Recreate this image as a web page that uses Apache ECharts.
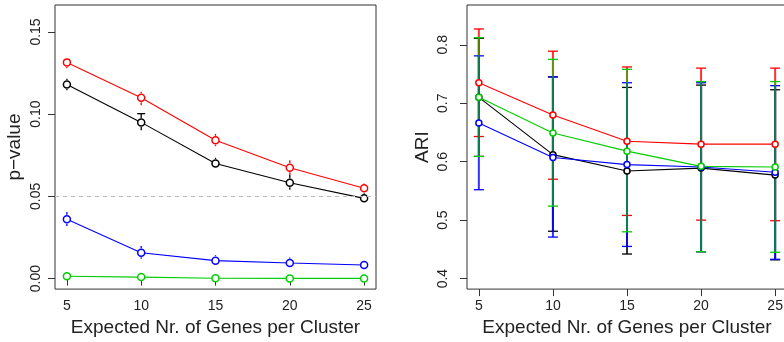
<!DOCTYPE html>
<html>
<head>
<meta charset="utf-8">
<script src="https://cdn.jsdelivr.net/npm/echarts@6/dist/echarts.min.js"></script>
<style>
  html, body { margin: 0; padding: 0; overflow: hidden; background: #fff; }
  #chart { width: 800px; height: 342px; }
</style>
</head>
<body>
<div id="chart"></div>
<script>
// x positions shared by both panels
const genesPerCluster = [5, 10, 15, 20, 25];
const xTicks = [5, 10, 15, 20, 25];

// left panel: p-value means and error limits
const pRed   = [0.1315, 0.110, 0.0841, 0.0674, 0.0549];
const pRedLo = [0.128, 0.1055, 0.0805, 0.063, 0.052];
const pRedHi = [0.1345, 0.1137, 0.0880, 0.072, 0.058];
const pBlack   = [0.118, 0.095, 0.070, 0.0583, 0.0488];
const pBlackLo = [0.1145, 0.0902, 0.0670, 0.054, 0.0458];
const pBlackHi = [0.1215, 0.1003, 0.0735, 0.063, 0.0520];
const pBlue   = [0.0361, 0.0157, 0.0109, 0.0095, 0.0083];
const pBlueLo = [0.0320, 0.0120, 0.0080, 0.0065, 0.0070];
const pBlueHi = [0.0405, 0.0198, 0.0142, 0.0128, 0.0096];
const pGreen   = [0.0014, 0.0009, 0.0002, 0.0001, 0.0001];
const pGreenLo = [0.0008, 0.0004, 0.0000, 0.0000, 0.0000];
const pGreenHi = [0.0020, 0.0014, 0.0004, 0.0002, 0.0002];
const pTicks = [0, 0.05, 0.10, 0.15];
const pThreshold = 0.05;

// right panel: ARI means and error limits
const ariRed   = [0.735, 0.680, 0.635, 0.630, 0.630];
const ariRedLo = [0.643, 0.570, 0.508, 0.500, 0.499];
const ariRedHi = [0.827, 0.789, 0.762, 0.760, 0.760];
const ariBlack   = [0.710, 0.612, 0.584, 0.589, 0.577];
const ariBlackLo = [0.609, 0.481, 0.442, 0.446, 0.432];
const ariBlackHi = [0.811, 0.745, 0.727, 0.731, 0.723];
const ariBlue   = [0.666, 0.607, 0.595, 0.591, 0.582];
const ariBlueLo = [0.552, 0.471, 0.455, 0.446, 0.433];
const ariBlueHi = [0.781, 0.745, 0.735, 0.735, 0.730];
const ariGreen   = [0.710, 0.649, 0.618, 0.592, 0.591];
const ariGreenLo = [0.609, 0.524, 0.480, 0.446, 0.445];
const ariGreenHi = [0.812, 0.775, 0.758, 0.737, 0.737];
const ariTicks = [0.4, 0.5, 0.6, 0.7, 0.8];

const RED = '#ff0000', BLACK = '#000000', BLUE = '#0000ff', GREEN = '#00cd00';
const FONT = 'Liberation Sans, Arial, sans-serif';

const chart = echarts.init(document.getElementById('chart'), null, { renderer: 'canvas' });

// error bars: vertical segment with caps, drawn through the axis scales
function errorBars(gap, capW, barOpacity, barWidth) {
  return function (params, api) {
    const x = api.value(0), lo = api.value(1), hi = api.value(2), m = api.value(3);
    const pLo = api.coord([x, lo]), pHi = api.coord([x, hi]), pM = api.coord([x, m]);
    const color = api.visual('color');
    const kids = [];
    const seg = (y1, y2) => kids.push({
      type: 'line',
      shape: { x1: pM[0], y1: y1, x2: pM[0], y2: y2 },
      style: { stroke: color, lineWidth: barWidth, opacity: barOpacity }
    });
    const cap = (y) => kids.push({
      type: 'line',
      shape: { x1: pM[0] - capW / 2, y1: y, x2: pM[0] + capW / 2, y2: y },
      style: { stroke: color, lineWidth: 1.3 }
    });
    const top = pM[1] - gap, bot = pM[1] + gap;
    if (top - pHi[1] > 0.5) {
      seg(pHi[1], top);
      if (top - pHi[1] > 4) cap(pHi[1]);
    }
    if (pLo[1] - bot > 0.5) {
      seg(bot, pLo[1]);
      if (pLo[1] - bot > 4) cap(pLo[1]);
    }
    return { type: 'group', children: kids };
  };
}

function rows(mean, lo, hi) {
  return genesPerCluster.map((x, i) => [x, lo[i], hi[i], mean[i]]);
}

function errSeries(idx, color, mean, lo, hi, gap, capW, op, w) {
  return {
    type: 'custom', xAxisIndex: idx, yAxisIndex: idx, z: 1,
    itemStyle: { color: color },
    renderItem: errorBars(gap, capW, op, w),
    encode: { x: 0, y: [1, 2] },
    data: rows(mean, lo, hi),
    silent: true
  };
}

function lineSeries(idx, color, mean, size) {
  return {
    type: 'line', xAxisIndex: idx, yAxisIndex: idx, z: 3,
    data: genesPerCluster.map((x, i) => [x, mean[i]]),
    symbol: 'circle', symbolSize: size, showSymbol: true,
    lineStyle: { color: color, width: 1.1 },
    itemStyle: { color: '#fff', borderColor: color, borderWidth: 1.5 },
    emphasis: { disabled: true },
    silent: true
  };
}

function xAxis(idx) {
  return {
    type: 'value', gridIndex: idx, min: 4.2, max: 25.8,
    name: 'Expected Nr. of Genes per Cluster', nameLocation: 'middle', nameGap: 27,
    nameTextStyle: { fontFamily: FONT, fontSize: 19, color: '#222' },
    axisLine: { show: false },
    axisTick: { show: true, length: 7, lineStyle: { color: '#333' }, customValues: xTicks },
    axisLabel: { fontFamily: FONT, fontSize: 14, color: '#222', margin: 10, customValues: xTicks },
    splitLine: { show: false }
  };
}

function yAxis(idx, name, min, max, ticks, fmt, margin, gap) {
  return {
    type: 'value', gridIndex: idx, min: min, max: max,
    name: name, nameLocation: 'middle', nameGap: gap, nameRotate: 90,
    nameTextStyle: { fontFamily: FONT, fontSize: 19, color: '#222' },
    axisLine: { show: false },
    axisTick: { show: true, length: 7, lineStyle: { color: '#333' }, customValues: ticks },
    axisLabel: {
      fontFamily: FONT, fontSize: 14, color: '#222', rotate: 90, margin: margin,
      customValues: ticks, formatter: v => v.toFixed(fmt)
    },
    splitLine: { show: false }
  };
}

const gridStyle = { show: true, borderColor: '#333', borderWidth: 1, backgroundColor: 'transparent' };

const option = {
  animation: false,
  backgroundColor: '#fff',
  grid: [
    Object.assign({ left: 55, top: 5, width: 321, height: 287 }, gridStyle),
    Object.assign({ left: 467, top: 5, width: 320, height: 286 }, gridStyle)
  ],
  xAxis: [xAxis(0), xAxis(1)],
  yAxis: [
    yAxis(0, 'p\u2212value', -0.0064, 0.1664, pTicks, 2, 12, 31),
    yAxis(1, 'ARI', 0.382, 0.868, ariTicks, 1, 17, 35)
  ],
  series: [
    // left panel
    errSeries(0, BLACK, pBlack, pBlackLo, pBlackHi, 4.5, 8, 1, 1.3),
    errSeries(0, RED, pRed, pRedLo, pRedHi, 4.5, 8, 1, 1.3),
    errSeries(0, BLUE, pBlue, pBlueLo, pBlueHi, 4.5, 8, 1, 1.3),
    errSeries(0, GREEN, pGreen, pGreenLo, pGreenHi, 4.5, 8, 1, 1.3),
    Object.assign(lineSeries(0, BLACK, pBlack, 7), {
      markLine: {
        silent: true, symbol: 'none', label: { show: false },
        lineStyle: { color: '#bbbbbb', type: [4, 4], width: 1 },
        data: [{ yAxis: pThreshold }]
      }
    }),
    lineSeries(0, RED, pRed, 7),
    lineSeries(0, BLUE, pBlue, 7),
    lineSeries(0, GREEN, pGreen, 7),
    // right panel
    errSeries(1, BLACK, ariBlack, ariBlackLo, ariBlackHi, 0, 10, 0.8, 2),
    errSeries(1, RED, ariRed, ariRedLo, ariRedHi, 0, 10, 0.8, 2),
    errSeries(1, BLUE, ariBlue, ariBlueLo, ariBlueHi, 0, 10, 0.8, 2),
    errSeries(1, GREEN, ariGreen, ariGreenLo, ariGreenHi, 0, 10, 0.6, 2),
    lineSeries(1, BLACK, ariBlack, 6),
    lineSeries(1, RED, ariRed, 6),
    lineSeries(1, BLUE, ariBlue, 6),
    lineSeries(1, GREEN, ariGreen, 6)
  ]
};

chart.setOption(option);
</script>
</body>
</html>
